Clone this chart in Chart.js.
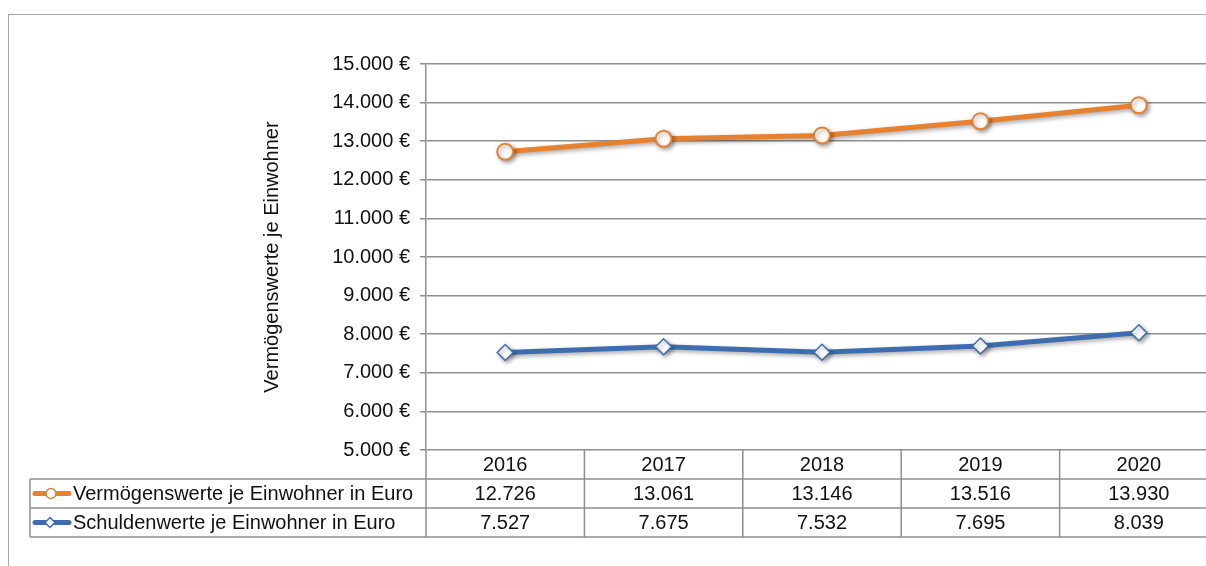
<!DOCTYPE html>
<html>
<head>
<meta charset="utf-8">
<script src="https://cdn.jsdelivr.net/npm/chart.js@4.4.0/dist/chart.umd.min.js"></script>
<style>
  html, body { margin: 0; padding: 0; background: #fff; overflow: hidden; }
  #wrap { width: 1206px; height: 566px; overflow: hidden; }
</style>
</head>
<body>
<div id="wrap"><canvas id="mycanvas" width="1230" height="566"></canvas></div>
<script>
var years = ["2016", "2017", "2018", "2019", "2020"];
var vermoegen = [12726, 13061, 13146, 13516, 13930];
var schulden = [7527, 7675, 7532, 7695, 8039];
var seriesNames = ["Vermögenswerte je Einwohner in Euro", "Schuldenwerte je Einwohner in Euro"];
var axisTitle = "Vermögenswerte je Einwohner";

var ORANGE = "#E5812F";
var BLUE = "#3E6DAF";
var GRID = "#8f8f8f";
var FONT = "20px 'Liberation Sans', Arial, sans-serif";

function fmt(v) {
	return String(v).replace(/\B(?=(\d{3})+(?!\d))/g, ".");
}

var shadowPlugin = {
	id: "shadow",
	beforeDatasetsDraw: function(chart) {
		var ctx = chart.ctx;
		ctx.save();
		ctx.shadowColor = "rgba(0,0,0,0.35)";
		ctx.shadowBlur = 4;
		ctx.shadowOffsetX = 2;
		ctx.shadowOffsetY = 2;
	},
	afterDatasetsDraw: function(chart) {
		chart.ctx.restore();
	}
};

var tablePlugin = {
	id: "datatable",
	beforeDraw: function(chart) {
		var ctx = chart.ctx;
		ctx.save();
		ctx.fillStyle = "#fff";
		ctx.fillRect(0, 0, chart.width, chart.height);
		ctx.strokeStyle = "#a6a6a6";
		ctx.lineWidth = 1;
		ctx.strokeRect(8.5, 14.5, 1400, 700);
		ctx.restore();
	},
	afterDraw: function(chart) {
		var ctx = chart.ctx;
		var area = chart.chartArea;
		var x = chart.scales.x;
		var rowH = 29;
		var top = area.bottom;
		var legendLeft = 30;
		ctx.save();
		ctx.strokeStyle = GRID;
		ctx.lineWidth = 1.5;

		// column borders
		var bounds = [area.left];
		for (var i = 1; i < years.length; i++) {
			bounds.push((x.getPixelForTick(i - 1) + x.getPixelForTick(i)) / 2);
		}
		bounds.push(area.right);
		ctx.beginPath();
		for (var b = 0; b < bounds.length; b++) {
			ctx.moveTo(bounds[b], top);
			ctx.lineTo(bounds[b], top + rowH * 3);
		}
		ctx.moveTo(legendLeft, top + rowH);
		ctx.lineTo(legendLeft, top + rowH * 3);
		for (var r = 1; r <= 3; r++) {
			ctx.moveTo(legendLeft, top + rowH * r);
			ctx.lineTo(area.right, top + rowH * r);
		}
		ctx.stroke();

		// text
		ctx.font = FONT;
		ctx.fillStyle = "#111";
		ctx.textBaseline = "middle";
		ctx.textAlign = "center";
		var rows = [vermoegen, schulden];
		for (var c = 0; c < years.length; c++) {
			var cx = x.getPixelForTick(c);
			ctx.fillText(years[c], cx, top + rowH * 0.5 + 1);
			ctx.fillText(fmt(rows[0][c]), cx, top + rowH * 1.5 + 1);
			ctx.fillText(fmt(rows[1][c]), cx, top + rowH * 2.5 + 1);
		}

		// legend keys
		var colors = [ORANGE, BLUE];
		for (var s = 0; s < 2; s++) {
			var cy = top + rowH * (1.5 + s);
			ctx.strokeStyle = colors[s];
			ctx.lineWidth = 5;
			ctx.lineCap = "round";
			ctx.beginPath();
			ctx.moveTo(35, cy);
			ctx.lineTo(69, cy);
			ctx.stroke();
			ctx.fillStyle = "#fff";
			ctx.lineWidth = 1.5;
			ctx.beginPath();
			if (s === 0) {
				ctx.arc(51, cy, 5, 0, Math.PI * 2);
			} else {
				ctx.moveTo(50, cy - 5);
				ctx.lineTo(55, cy);
				ctx.lineTo(50, cy + 5);
				ctx.lineTo(45, cy);
				ctx.closePath();
			}
			ctx.fill();
			ctx.stroke();
			ctx.fillStyle = "#111";
			ctx.textAlign = "left";
			ctx.fillText(seriesNames[s], 73, cy + 1);
		}

		// y axis title
		ctx.translate(272, (area.top + area.bottom) / 2);
		ctx.rotate(-Math.PI / 2);
		ctx.textAlign = "center";
		ctx.fillText(axisTitle, 0, 0);
		ctx.restore();
	}
};

var ctx = document.getElementById("mycanvas");

var LineGraph = new Chart(ctx, {
	type: "line",
	data: {
		labels: years,
		datasets: [
			{
				label: seriesNames[0],
				data: vermoegen,
				borderColor: ORANGE,
				borderWidth: 5,
				backgroundColor: "#fff",
				pointStyle: "circle",
				pointRadius: 8,
				pointBorderWidth: 2,
				pointBorderColor: ORANGE,
				pointBackgroundColor: "#fff",
				tension: 0
			},
			{
				label: seriesNames[1],
				data: schulden,
				borderColor: BLUE,
				borderWidth: 5,
				backgroundColor: "#fff",
				pointStyle: "rectRot",
				pointRadius: 8,
				pointBorderWidth: 1.5,
				pointBorderColor: BLUE,
				pointBackgroundColor: "#fff",
				tension: 0
			}
		]
	},
	options: {
		responsive: false,
		animation: false,
		layout: { padding: { left: 0, top: 64, right: 12, bottom: 116 } },
		plugins: {
			legend: { display: false },
			tooltip: { enabled: false }
		},
		scales: {
			x: {
				display: false,
				offset: true
			},
			y: {
				min: 5000,
				max: 15000,
				ticks: {
					stepSize: 1000,
					padding: 10,
					color: "#111",
					font: { family: "'Liberation Sans', Arial, sans-serif", size: 20 },
					callback: function(v) { return fmt(v) + " €"; }
				},
				grid: { color: GRID, lineWidth: 1.5, tickLength: 6 },
				border: { color: GRID, width: 1.5 },
				afterFit: function(scale) { scale.width = 426; }
			}
		}
	},
	plugins: [tablePlugin, shadowPlugin]
});
</script>
</body>
</html>
